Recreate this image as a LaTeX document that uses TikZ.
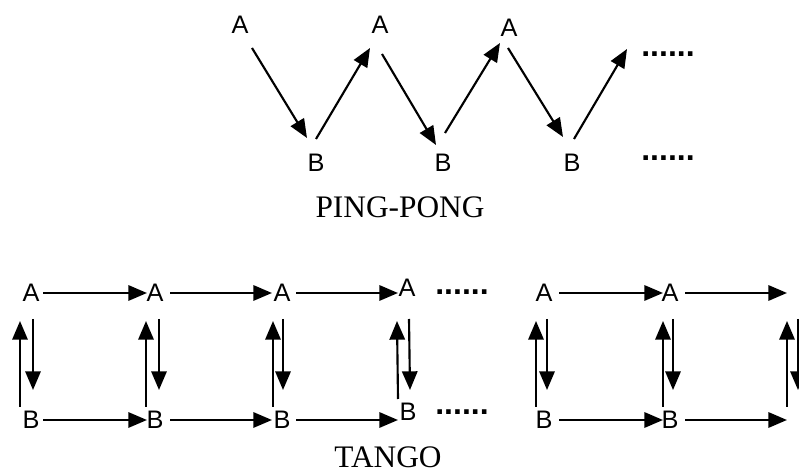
\documentclass[tikz,border=0pt]{standalone}
\usepackage{fontspec}
\setmainfont{Liberation Serif}
\newfontfamily\labelsans{Liberation Sans}
\usetikzlibrary{arrows.meta}
\begin{document}
\begin{tikzpicture}[x=0.75pt,y=-0.75pt,
  letter/.style={font=\labelsans\fontsize{19pt}{21pt}\selectfont, inner sep=0pt},
  caption/.style={font=\fontsize{23.5pt}{26pt}\selectfont, inner sep=0pt},
  ellipsis/.style={font=\labelsans\bfseries\fontsize{24pt}{26pt}\selectfont, inner sep=0pt, anchor=base},
  arr/.style={line width=1.6pt, -{Triangle[length=14pt,width=11.5pt]}}]
\useasboundingbox (0,0) rectangle (799,473);

% ---------- PING-PONG ----------
\node[letter] (pa1) at (240,25) {A};
\node[letter] (pa2) at (380,25) {A};
\node[letter] (pa3) at (509,28) {A};
\node[letter] (pb1) at (316,163) {B};
\node[letter] (pb2) at (443,163) {B};
\node[letter] (pb3) at (572,163) {B};
\coordinate (pend) at (627,49);

\draw[arr] ([shift={(12,23)}]pa1.center) -- ([shift={(-9,-25)}]pb1.center);
\draw[arr] ([shift={(0,-24)}]pb1.center) -- ([shift={(-10,23)}]pa2.center);
\draw[arr] ([shift={(2,29)}]pa2.center) -- ([shift={(-7,-18)}]pb2.center);
\draw[arr] ([shift={(2,-30)}]pb2.center) -- ([shift={(-9,15)}]pa3.center);
\draw[arr] ([shift={(-1,20)}]pa3.center) -- ([shift={(-9,-26)}]pb3.center);
\draw[arr] ([shift={(2,-24)}]pb3.center) -- (pend);

\node[ellipsis] (pdots1) at (668,57) {......};
\node[ellipsis] (pdots2) at (668,161) {......};

\node[caption] (ping) at (400,207) {PING-PONG};

% ---------- TANGO ----------
\node[letter] (ta1) at (31,293) {A};
\node[letter] (ta2) at (155,293) {A};
\node[letter] (ta3) at (282,293) {A};
\node[letter] (ta4) at (407,288) {A};
\node[letter] (ta5) at (544,293) {A};
\node[letter] (ta6) at (670,293) {A};
\node[letter] (tb1) at (31,420) {B};
\node[letter] (tb2) at (155,420) {B};
\node[letter] (tb3) at (282,420) {B};
\node[letter] (tb4) at (408,412) {B};
\node[letter] (tb5) at (544,420) {B};
\node[letter] (tb6) at (670,420) {B};
\coordinate (ta7) at (796,293);
\coordinate (tb7) at (796,420);

% horizontal moves
\draw[arr] ([shift={(12,0)}]ta1.center) -- ([shift={(-8,0)}]ta2.center);
\draw[arr] ([shift={(15,0)}]ta2.center) -- ([shift={(-10,0)}]ta3.center);
\draw[arr] ([shift={(14,0)}]ta3.center) -- ([shift={(-9,5)}]ta4.center);
\draw[arr] ([shift={(15,0)}]ta5.center) -- ([shift={(-7,0)}]ta6.center);
\draw[arr] ([shift={(15,0)}]ta6.center) -- ([shift={(-9,0)}]ta7);
\draw[arr] ([shift={(12,0)}]tb1.center) -- ([shift={(-8,0)}]tb2.center);
\draw[arr] ([shift={(15,0)}]tb2.center) -- ([shift={(-10,0)}]tb3.center);
\draw[arr] ([shift={(14,0)}]tb3.center) -- ([shift={(-10,8)}]tb4.center);
\draw[arr] ([shift={(15,0)}]tb5.center) -- ([shift={(-7,0)}]tb6.center);
\draw[arr] ([shift={(15,0)}]tb6.center) -- ([shift={(-9,0)}]tb7);

% vertical exchanges
\foreach \i/\u/\d in {1/-11/2, 2/-9/4, 3/-9/1, 4/-10/2, 5/-8/3, 6/-7/3, 7/-9/2}{
  \draw[arr] ([shift={(\u,-13)}]tb\i.center) -- ([shift={(\u,14)}]ta\i.center |- 0,307);
  \draw[arr] ([shift={(\d,13)}]ta\i.center |- 0,306) -- ([shift={(\d,-15)}]tb\i.center |- 0,405);
}

\node[ellipsis] (tdots1) at (462,295) {......};
\node[ellipsis] (tdots2) at (462,415) {......};

\node[caption] (tango) at (388,457) {TANGO};
\end{tikzpicture}
\end{document}
